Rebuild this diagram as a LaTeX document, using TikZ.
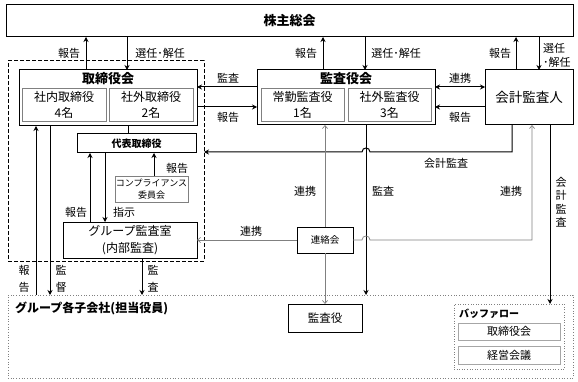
\documentclass[tikz,border=0pt]{standalone}
\usepackage{fontspec}
\setmainfont{Noto Sans CJK JP}
\usetikzlibrary{arrows.meta,calc}
\definecolor{gline}{HTML}{808080}
\tikzset{
  box/.style={draw, line width=1pt, inner sep=0pt, outer sep=0pt, anchor=north west},
  ibox/.style={draw=gline, line width=0.8pt, inner sep=0pt, outer sep=0pt, anchor=north west, align=center},
  arr/.style={line width=1pt, -{Stealth[length=5pt,width=5pt]}},
  dline/.style={line width=1pt},
  garr/.style={draw=gline, line width=0.7pt, -{Straight Barb[length=3pt,width=5pt]}},
  lbl/.style={font=\fontsize{11}{11}\selectfont, inner sep=0pt},
  ttl/.style={font=\fontsize{13}{13}\selectfont\bfseries, inner sep=0pt},
}
\begin{document}
\begin{tikzpicture}[x=1pt,y=-1pt]
\useasboundingbox (0,0) rectangle (578,382);
% frames
\node[box, dash pattern=on 4pt off 2pt, minimum width=196pt, minimum height=200pt] (dash) at (8,61) {};
\node[box, draw=gline, line width=0.7pt, dotted, minimum width=565pt, minimum height=83pt] (sub) at (8,295) {};
\node[anchor=west, inner sep=0pt, font=\fontsize{12}{12}\selectfont\bfseries] (subt) at (15,308) {グループ各子会社(担当役員)};
% top
\node[box, minimum width=567pt, minimum height=32pt, font=\fontsize{13}{13}\selectfont\bfseries] (kabu) at (6,5) {株主総会};
% board
\node[box, minimum width=178pt, minimum height=56pt] (tori) at (19,70) {};
\node[ttl] (torit) at (108,79) {取締役会};
\node[ibox, minimum width=84pt, minimum height=33pt, font=\fontsize{12}{16}\selectfont] (tori1) at (22,88) {社内取締役\\4名};
\node[ibox, minimum width=84pt, minimum height=33pt, font=\fontsize{12}{16}\selectfont] (tori2) at (109,88) {社外取締役\\2名};
% auditors
\node[box, minimum width=178pt, minimum height=55pt] (kansa) at (257,70) {};
\node[ttl] (kansat) at (346,79) {監査役会};
\node[ibox, minimum width=83pt, minimum height=33pt, font=\fontsize{12}{16}\selectfont] (kansa1) at (261,88) {常勤監査役\\1名};
\node[ibox, minimum width=83pt, minimum height=33pt, font=\fontsize{12}{16}\selectfont] (kansa2) at (348,88) {社外監査役\\3名};
% accounting auditor
\node[box, minimum width=88pt, minimum height=55pt, font=\fontsize{13.5}{13.5}\selectfont] (kaikei) at (485,70) {会計監査人};
% representative
\node[box, minimum width=119pt, minimum height=19pt, font=\fontsize{10}{10}\selectfont\bfseries] (daihyo) at (77,134) {代表取締役};
\node[ibox, minimum width=73pt, minimum height=26pt, font=\fontsize{9}{12}\selectfont] (comp) at (115,176) {コンプライアンス\\委員会};
\node[box, minimum width=134pt, minimum height=36pt, align=center, font=\fontsize{12}{17}\selectfont] (group) at (63,222) {グループ監査室\\(内部監査)};
% liaison
\node[box, line width=0.8pt, minimum width=56pt, minimum height=26pt, font=\fontsize{9.5}{9.5}\selectfont] (renraku) at (297,227) {連絡会};
\node[box, line width=0.8pt, minimum width=74pt, minimum height=28pt, font=\fontsize{11.5}{11.5}\selectfont] (kansayaku) at (288,304) {監査役};
% buffalo
\node[box, draw=gline, line width=0.6pt, dotted, minimum width=110pt, minimum height=65pt] (buf) at (454,304) {};
\node[anchor=west, inner sep=0pt, font=\fontsize{10}{10}\selectfont\bfseries] (buft) at (459,314) {バッファロー};
\node[ibox, draw=gline!70, minimum width=102pt, minimum height=17pt, font=\fontsize{11}{11}\selectfont] (buf1) at (458,323) {取締役会};
\node[ibox, draw=gline!70, minimum width=102pt, minimum height=18pt, font=\fontsize{11}{11}\selectfont] (buf2) at (458,346) {経営会議};

% arrows to/from shareholders
\draw[arr] (tori.north -| 86,0) -- (kabu.south -| 86,0);
\node[lbl] (l1) at (69,53) {報告};
\draw[arr] (kabu.south -| 127,0) -- (tori.north -| 127,0);
\node[lbl] (l2) at (160,53) {選任･解任};
\draw[arr] (kansa.north -| 323,0) -- (kabu.south -| 323,0);
\node[lbl] (l3) at (306,53) {報告};
\draw[arr] (kabu.south -| 365,0) -- (kansa.north -| 365,0);
\node[lbl] (l4) at (396,53) {選任･解任};
\draw[arr] (kaikei.north -| 516,0) -- (kabu.south -| 516,0);
\node[lbl] (l5) at (500,53) {報告};
\draw[arr] (kabu.south -| 539,0) -- (kaikei.north -| 539,0);
\node[lbl, anchor=west, align=left, font=\fontsize{11}{14}\selectfont] (l6) at (543,55) {選任\\･解任};

% between boards
\draw[arr] (kansa.west |- 0,87) -- (tori.east |- 0,87);
\node[lbl] (l7) at (228,78) {監査};
\draw[arr] (tori.east |- 0,107) -- (kansa.west |- 0,107);
\node[lbl] (l8) at (228,117) {報告};
\draw[line width=1pt, {Stealth[length=5pt,width=5pt]}-{Stealth[length=5pt,width=5pt]}] (kansa.east |- 0,87) -- (kaikei.west |- 0,87);
\node[lbl] (l9) at (460,78) {連携};
\draw[arr] (kaikei.west |- 0,107) -- (kansa.east |- 0,107);
\node[lbl] (l10) at (460,117) {報告};

% inside governance
\draw[dline] (tori.south -| 128,0) -- (daihyo.north -| 128,0);
\draw[arr] (group.north -| 90,0) -- (daihyo.south -| 90,0);
\node[lbl] (l11) at (76,212) {報告};
\draw[arr] (daihyo.south -| 105,0) -- (group.north -| 105,0);
\node[lbl] (l12) at (124,212) {指示};
\draw[arr] (comp.north -| 154,0) -- (daihyo.south -| 154,0);
\node[lbl] (l13) at (177,168) {報告};

% to subsidiaries
\draw[arr] (sub.north -| 36,0) -- (tori.south -| 36,0);
\node[lbl, align=center, font=\fontsize{11}{17}\selectfont] (l14) at (24,279) {報\\告};
\draw[arr] (tori.south -| 50,0) -- (sub.north -| 50,0);
\node[lbl, align=center, font=\fontsize{11}{17}\selectfont] (l15) at (61,279) {監\\督};
\draw[arr] (group.south -| 142,0) -- (sub.north -| 142,0);
\node[lbl, align=center, font=\fontsize{11}{17}\selectfont] (l16) at (153,279) {監\\査};

% accounting audit line with bridge
\draw[arr] (kaikei.south -| 512,0) -- (512,152) -- (370,152)
  .. controls (370,146.7) and (362,146.7) .. (362,152) -- (dash.east |- 0,152);
\node[lbl] (l17) at (446,163) {会計監査};
\draw[arr] (kansa.south -| 366,0) -- (sub.north -| 366,0);
\node[lbl] (l18) at (383,191) {監査};
\draw[arr] (kaikei.south -| 550,0) -- (buf.north -| 550,0);
\node[lbl, align=center, font=\fontsize{11}{13.5}\selectfont] (l19) at (561,202) {会\\計\\監\\査};

% liaison lines
\draw[garr] (renraku.north) -- (kansa.south -| renraku.north);
\draw[garr] (renraku.south) -- (kansayaku.north -| renraku.south);
\node[lbl] (l20) at (305,191) {連携};
\draw[garr] (renraku.east) -- (362,240) .. controls (362,234.7) and (370,234.7) .. (370,240)
  -- (532,240) -- (kaikei.south -| 532,0);
\node[lbl] (l21) at (511,191) {連携};
\draw[garr] (renraku.west) -- (group.east |- renraku.west);
\node[lbl] (l22) at (251,231) {連携};
\end{tikzpicture}
\end{document}
